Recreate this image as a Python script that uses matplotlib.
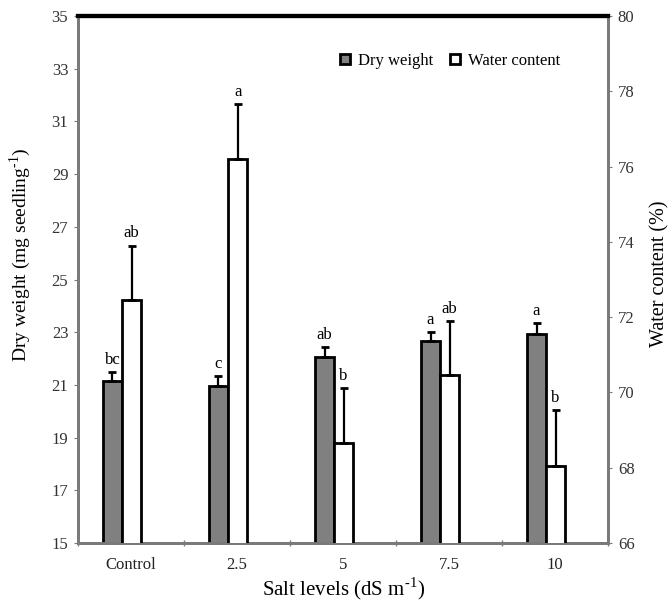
import numpy as np
import matplotlib
matplotlib.use('Agg')
import matplotlib.pyplot as plt
from matplotlib.lines import Line2D

plt.rcParams['font.family'] = ['Liberation Serif', 'DejaVu Serif']
plt.rcParams['mathtext.fontset'] = 'custom'
plt.rcParams['mathtext.rm'] = 'Liberation Serif'

# data
levels = ['Control', '2.5', '5', '7.5', '10']
dry_weight = [21.15, 20.95, 22.05, 22.65, 22.95]
dry_err = [0.35, 0.4, 0.38, 0.37, 0.39]
dry_letters = ['bc', 'c', 'ab', 'a', 'a']
water = [72.45, 76.2, 68.65, 70.45, 68.05]
water_err = [1.45, 1.45, 1.47, 1.45, 1.48]
water_letters = ['ab', 'a', 'b', 'ab', 'b']

x = np.arange(len(levels))
w = 0.178
grey_x = x - 0.175
white_x = x + 0.005

fig = plt.figure(figsize=(6.69, 6.04), dpi=100)
ax = fig.add_axes([0.1166, 0.101, 0.7924, 0.8725])
ax2 = ax.twinx()

spine_grey = '#7a7a7a'

# dry weight (left axis)
ax.bar(grey_x, dry_weight, width=w, color='#808080', edgecolor='black', linewidth=2, zorder=3)
ax.errorbar(grey_x, dry_weight, yerr=[np.zeros(5), dry_err], fmt='none', ecolor='black',
            elinewidth=1.6, capsize=3, capthick=2, zorder=4)
for xi, v, e, t in zip(grey_x, dry_weight, dry_err, dry_letters):
    ax.annotate(t, (xi, v + e), xytext=(0, 3), textcoords='offset points',
                ha='center', va='bottom', fontsize=12)

# water content (right axis)
ax2.bar(white_x, water, width=w, color='white', edgecolor='black', linewidth=2, zorder=3)
ax2.errorbar(white_x, water, yerr=[np.zeros(5), water_err], fmt='none', ecolor='black',
             elinewidth=1.6, capsize=3, capthick=2, zorder=4)
for xi, v, e, t in zip(white_x, water, water_err, water_letters):
    ax2.annotate(t, (xi, v + e), xytext=(0, 3), textcoords='offset points',
                 ha='center', va='bottom', fontsize=12)

ax.set_xlim(-0.5, 4.5)
ax.set_ylim(15, 35)
ax.set_yticks(np.arange(15, 36, 2))
ax2.set_ylim(66, 80)
ax2.set_yticks(np.arange(66, 81, 2))

ax.set_xticks(x)
ax.set_xticklabels(levels)
ax.set_xticks(np.arange(-0.5, 5, 1), minor=True)
ax.tick_params(axis='x', which='major', length=0, pad=10, labelsize=12, labelcolor='#222222')
ax.tick_params(axis='x', which='minor', length=4, direction='inout', color=spine_grey, width=1)
ax.tick_params(axis='y', length=3, color=spine_grey, labelsize=12, labelcolor='#333333', pad=4)
ax2.tick_params(axis='y', length=3, color=spine_grey, labelsize=12, labelcolor='#333333', pad=4)

for a in (ax, ax2):
    for s in ('left', 'right', 'bottom'):
        a.spines[s].set_color(spine_grey)
        a.spines[s].set_linewidth(2)
    a.spines['top'].set_color('black')
    a.spines['top'].set_linewidth(3)

ax.set_xlabel(r'Salt levels (dS m$^{\text{-1}}$)', fontsize=15, labelpad=2)
ax.set_ylabel(r'Dry weight (mg seedling$^{\text{-1}}$)', fontsize=14)
ax2.set_ylabel('Water content (%)', fontsize=14.5)
ax.yaxis.set_label_coords(-0.085, 0.546)
ax2.yaxis.set_label_coords(1.08, 0.51)

handles = [
    Line2D([], [], linestyle='none', marker='s', markersize=7, markerfacecolor='#808080',
           markeredgecolor='black', markeredgewidth=2),
    Line2D([], [], linestyle='none', marker='s', markersize=7, markerfacecolor='white',
           markeredgecolor='black', markeredgewidth=2),
]
ax2.legend(handles, ['Dry weight', 'Water content'], ncol=2, frameon=False, fontsize=12,
           loc='center', bbox_to_anchor=(0.7, 0.915), handlelength=0.8, handletextpad=0.4,
           columnspacing=0.9)

fig.savefig('out.png', dpi=100)
